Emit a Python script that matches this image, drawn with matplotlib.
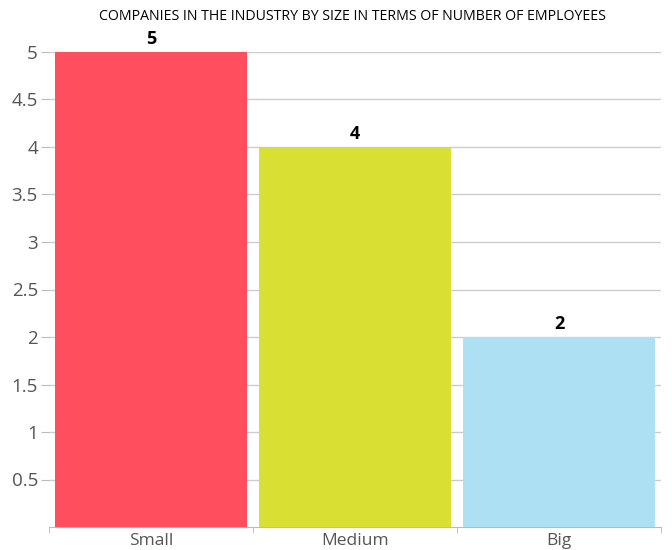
import matplotlib.pyplot as plt

categories = ["Small", "Medium", "Big"]
values = [5, 4, 2]
colors = ["#FF4F5E", "#D9E031", "#ACE0F2"]

plt.rcParams['font.family'] = ['Open Sans', 'DejaVu Sans']

fig = plt.figure(figsize=(6.72, 5.5), dpi=100)
ax = fig.add_axes([49/672, 23/550, 612/672, 475/550])

x = list(range(len(categories)))
bars = ax.bar(x, values, width=0.94, color=colors, zorder=3)
for xi, v in zip(x, values):
    ax.text(xi, v + 0.04, str(v), ha='center', va='bottom', fontsize=13, fontweight='bold', color='black')

ax.set_xlim(-0.5, 2.5)
ax.set_ylim(0, 5)
ax.set_yticks([0.5, 1, 1.5, 2, 2.5, 3, 3.5, 4, 4.5, 5])
ax.set_yticklabels(["0.5", "1", "1.5", "2", "2.5", "3", "3.5", "4", "4.5", "5"])
ax.set_xticks(x)
ax.set_xticklabels(categories)
ax.set_xticks([-0.5, 0.5, 1.5, 2.5], minor=True)
ax.tick_params(axis='x', which='major', length=0, labelsize=12.5, colors='#555555', pad=4)
ax.tick_params(axis='x', which='minor', length=4, color='#bbbbbb')
ax.tick_params(axis='y', length=6, color='#bbbbbb', labelsize=13.5, labelcolor='#555555', pad=2)
ax.yaxis.grid(True, color='#cccccc', linewidth=1, zorder=0)
for s in ['top', 'right', 'left']:
    ax.spines[s].set_visible(False)
ax.spines['bottom'].set_color('#bbbbbb')

fig.text(352/672, 1 - 17/550, "COMPANIES IN THE INDUSTRY BY SIZE IN TERMS OF NUMBER OF EMPLOYEES",
         ha='center', va='center', fontsize=10.2, color='black')

fig.savefig("out.png", dpi=100)
